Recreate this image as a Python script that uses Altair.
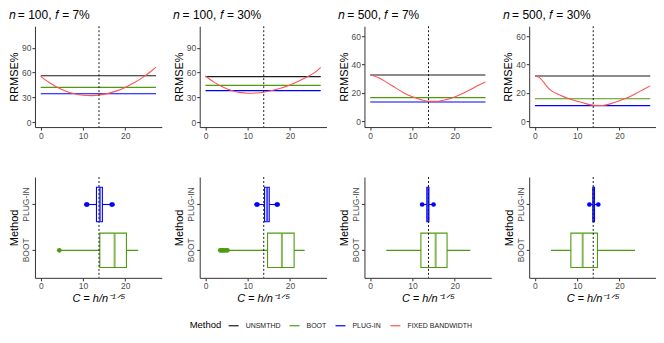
import altair as alt
import pandas as pd

# ---------------- data ----------------
methods = ["UNSMTHD", "BOOT", "PLUG-IN", "FIXED BANDWIDTH"]
method_colors = ["#1a1a1a", "#4e9a12", "#0000ff", "#ff5252"]

panel_titles = ["𝑛 = 100, 𝑓 = 7%", "𝑛 = 100, 𝑓 = 30%", "𝑛 = 500, 𝑓 = 7%", "𝑛 = 500, 𝑓 = 30%"]
panel_n = [100, 100, 500, 500]

unsmthd_rmse = [56.0, 55.0, 32.7, 32.0]
boot_rmse = [42.0, 44.4, 16.7, 15.9]
plugin_rmse = [34.3, 38.1, 13.7, 11.1]

fixed_C = [
    [0, 2, 4, 6, 8, 10, 12, 14, 16, 18, 20, 22, 24, 26, 27.3],
    [0, 2, 4, 6, 8, 10, 12, 14, 16, 18, 20, 22, 24, 26, 27.3],
    [0, 2, 4, 6, 8, 10, 12, 14, 16, 18, 20, 22, 24, 26, 27.3],
    [0, 1, 2, 3, 4, 6, 8, 10, 12, 14, 16, 18, 20, 22, 24, 26, 27.3],
]
fixed_rmse = [
    [55.4, 48.0, 42.0, 37.4, 34.2, 32.4, 32.0, 32.9, 34.8, 37.8, 42.0, 47.2, 53.5, 60.9, 66.5],
    [55.8, 48.4, 42.7, 38.5, 36.0, 35.0, 35.3, 36.5, 38.6, 41.3, 44.9, 49.3, 54.5, 60.4, 66.3],
    [32.7, 30.8, 27.3, 23.6, 20.0, 17.3, 15.3, 14.1, 14.2, 15.3, 17.2, 19.8, 22.8, 26.0, 27.8],
    [32.0, 31.0, 27.8, 24.0, 21.3, 18.4, 16.0, 14.2, 12.5, 11.3, 11.2, 12.5, 14.5, 16.8, 19.8, 23.0, 25.0],
]

ref_C = 13.8
c_max = 27.3

# boxplot statistics of selected C per method
boot_lo = [4.7, 5.5, 3.8, 3.8]
boot_q1 = [14.0, 14.7, 12.0, 8.5]
boot_med = [17.5, 18.1, 15.5, 11.3]
boot_q3 = [20.3, 21.0, 18.2, 14.8]
boot_hi = [23.1, 23.5, 23.7, 23.7]
boot_out = [[4.4], [3.5, 3.8, 4.1, 4.4, 4.8, 5.2], [], []]

plug_lo = [11.3, 12.4, 12.5, 13.1]
plug_q1 = [13.2, 14.0, 13.4, 13.7]
plug_med = [14.0, 14.6, 13.7, 13.9]
plug_q3 = [14.6, 15.1, 13.9, 14.1]
plug_hi = [16.5, 16.8, 14.8, 14.8]
plug_out = [[10.8, 11.0, 16.8, 17.0], [12.1, 12.3, 16.9, 17.1], [12.3, 15.0], [12.9, 15.0]]

y_domains = {100: [-6, 116], 500: [-4, 67]}
y_ticks = {100: [0, 30, 60, 90], 500: [0, 20, 40, 60]}

# ---------------- chart ----------------
W = 127
H = 101
FONT = "Liberation Sans"

x_scale = alt.Scale(domain=[-1.37, 28.67], nice=False, zero=False)
color_scale = alt.Scale(domain=methods, range=method_colors)
box_scale = alt.Scale(domain=["BOOT", "PLUG-IN"], range=[method_colors[1], method_colors[2]])

legend = alt.Legend(title="Method", orient="none", legendX=155, legendY=294,
                    direction="horizontal", titleOrient="left", symbolType="stroke")


def top_chart(i):
    n = panel_n[i]
    hl = pd.DataFrame({
        "Method": methods[:3],
        "value": [unsmthd_rmse[i], boot_rmse[i], plugin_rmse[i]],
        "x0": [0.0] * 3,
        "x1": [c_max] * 3,
    })
    fb = pd.DataFrame({"C": fixed_C[i], "RMSE": fixed_rmse[i],
                       "Method": ["FIXED BANDWIDTH"] * len(fixed_C[i])})
    ref = pd.DataFrame({"C": [ref_C]})
    y_scale = alt.Scale(domain=y_domains[n], nice=False, zero=False)
    x_axis = alt.Axis(values=[0, 10, 20], title=None)
    y_axis = alt.Axis(values=y_ticks[n], title="RRMSE%")

    rules = alt.Chart(hl).mark_rule(strokeWidth=1.1).encode(
        x=alt.X("x0:Q", scale=x_scale, axis=x_axis),
        x2="x1:Q",
        y=alt.Y("value:Q", scale=y_scale, axis=y_axis),
        color=alt.Color("Method:N", scale=color_scale, legend=legend),
    )
    line = alt.Chart(fb).mark_line(strokeWidth=1.1, interpolate="monotone").encode(
        x=alt.X("C:Q", scale=x_scale, axis=x_axis),
        y=alt.Y("RMSE:Q", scale=y_scale, axis=y_axis),
        color=alt.Color("Method:N", scale=color_scale, legend=legend),
    )
    vline = alt.Chart(ref).mark_rule(color="#1a1a1a", strokeDash=[2, 2], strokeWidth=1).encode(
        x=alt.X("C:Q", scale=x_scale, axis=x_axis)
    )
    return alt.layer(rules, line, vline).properties(
        width=W, height=H,
        title=alt.TitleParams(panel_titles[i], anchor="start", fontSize=12,
                              fontWeight="normal", font=FONT, offset=4),
    )


def bottom_chart(i):
    box = pd.DataFrame({
        "Method": ["BOOT", "PLUG-IN"],
        "lo": [boot_lo[i], plug_lo[i]],
        "q1": [boot_q1[i], plug_q1[i]],
        "med": [boot_med[i], plug_med[i]],
        "q3": [boot_q3[i], plug_q3[i]],
        "hi": [boot_hi[i], plug_hi[i]],
    })
    outs = pd.DataFrame({
        "Method": ["BOOT"] * len(boot_out[i]) + ["PLUG-IN"] * len(plug_out[i]),
        "C": boot_out[i] + plug_out[i],
    })
    ref = pd.DataFrame({"C": [ref_C]})
    x_axis = alt.Axis(values=[0, 10, 20], title="C = h/n⁻¹ᐟ⁵", titleFontStyle="italic")
    y = alt.Y("Method:N",
              scale=alt.Scale(domain=["PLUG-IN", "BOOT"], paddingInner=0, paddingOuter=0.1),
              axis=alt.Axis(title="Method", labelAngle=270, labelAlign="center",
                            labelBaseline="bottom"))

    base = alt.Chart(box)
    whisk = base.mark_rule(strokeWidth=1.1).encode(
        x=alt.X("lo:Q", scale=x_scale, axis=x_axis), x2="hi:Q", y=y,
        stroke=alt.Stroke("Method:N", scale=box_scale, legend=None),
    )
    rect = base.mark_bar(height=alt.RelativeBandSize(0.75), fill="white", strokeWidth=1.1).encode(
        x=alt.X("q1:Q", scale=x_scale, axis=x_axis), x2="q3:Q", y=y,
        stroke=alt.Stroke("Method:N", scale=box_scale, legend=None),
    )
    med = base.mark_tick(thickness=2, size=34).encode(
        x=alt.X("med:Q", scale=x_scale, axis=x_axis), y=y,
        fill=alt.Fill("Method:N", scale=box_scale, legend=None),
    )
    layers = [whisk, rect, med]
    if len(outs):
        pts = alt.Chart(outs).mark_circle(size=22, opacity=1).encode(
            x=alt.X("C:Q", scale=x_scale, axis=x_axis), y=y,
            fill=alt.Fill("Method:N", scale=box_scale, legend=None),
        )
        layers.append(pts)
    vline = alt.Chart(ref).mark_rule(color="#1a1a1a", strokeDash=[2, 2], strokeWidth=1).encode(
        x=alt.X("C:Q", scale=x_scale, axis=x_axis)
    )
    layers.append(vline)
    return alt.layer(*layers).properties(width=W, height=H)


panels = [top_chart(i) for i in range(4)] + [bottom_chart(i) for i in range(4)]

chart = alt.concat(*panels, columns=4, spacing={"row": 36, "column": 11}).properties(
    padding={"left": 0, "top": 0, "right": 0, "bottom": 2}
).configure(font=FONT).configure_view(strokeWidth=0).configure_axis(
    grid=False,
    domainColor="#333333",
    domainWidth=1,
    tickColor="#333333",
    tickSize=3,
    labelColor="#4d4d4d",
    labelFontSize=8.5,
    labelFont=FONT,
    titleFont=FONT,
    titleFontSize=11,
    titleFontWeight="normal",
    titleColor="#000000",
    titlePadding=2,
    labelPadding=1,
).configure_legend(
    labelFont=FONT,
    titleFont=FONT,
    labelFontSize=7,
    titleFontSize=9.5,
    titleFontWeight="normal",
    labelColor="#1a1a1a",
    symbolStrokeWidth=1.2,
    symbolSize=100,
    columnPadding=6,
    labelOffset=6,
    titlePadding=6,
)

chart.save("out.html", embed_options={"renderer": "svg", "actions": False})
